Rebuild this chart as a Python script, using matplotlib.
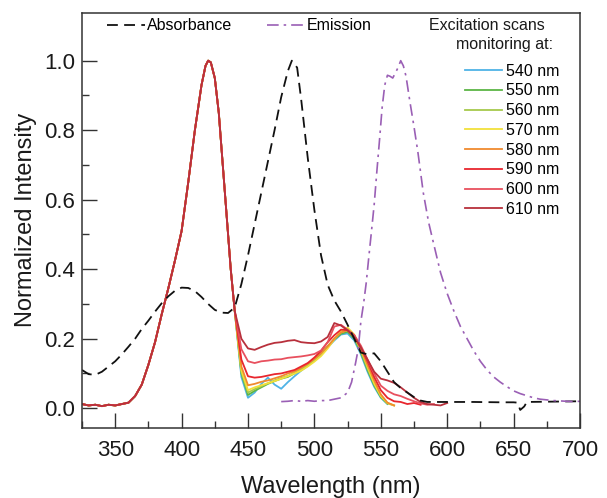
import numpy as np
import matplotlib
matplotlib.use("Agg")
import matplotlib.pyplot as plt

plt.rcParams['font.family'] = ['Liberation Sans', 'DejaVu Sans']

nan = np.nan

# excitation scans: shared rising part (all monitoring wavelengths overlap here)
exc_wl_common = [325, 330, 335, 340, 345, 350, 355, 360, 365, 370, 375, 380, 385,
                 390, 395, 400, 405, 410, 415, 418, 420, 422, 425, 428, 431, 434,
                 437, 440]
exc_common = [0.012, 0.008, 0.010, 0.006, 0.010, 0.008, 0.012, 0.016, 0.035, 0.068,
              0.125, 0.19, 0.27, 0.345, 0.425, 0.51, 0.65, 0.80, 0.93, 0.985,
              1.0, 0.995, 0.95, 0.85, 0.70, 0.55, 0.40, 0.28]

# tails after the 420 nm band, one per monitoring wavelength
exc_wl_tail = list(range(445, 605, 5))
exc_540 = [0.09, 0.03, 0.045, 0.07, 0.088, 0.068, 0.056, 0.075, 0.092, 0.108, 0.122,
           0.138, 0.155, 0.175, 0.195, 0.212, 0.215, 0.195, 0.155, 0.105, 0.062, 0.03,
           0.012, nan, nan, nan, nan, nan, nan, nan, nan, nan]
exc_550 = [0.10, 0.038, 0.05, 0.06, 0.07, 0.078, 0.085, 0.09, 0.10, 0.11, 0.124,
           0.14, 0.158, 0.178, 0.198, 0.214, 0.22, 0.2, 0.16, 0.11, 0.066, 0.032,
           0.013, nan, nan, nan, nan, nan, nan, nan, nan, nan]
exc_560 = [0.105, 0.045, 0.055, 0.063, 0.072, 0.08, 0.087, 0.093, 0.102, 0.112, 0.125,
           0.14, 0.157, 0.177, 0.2, 0.218, 0.225, 0.205, 0.165, 0.115, 0.07, 0.035,
           0.014, 0.008, nan, nan, nan, nan, nan, nan, nan, nan]
exc_570 = [0.11, 0.052, 0.06, 0.066, 0.072, 0.078, 0.085, 0.092, 0.10, 0.108, 0.12,
           0.134, 0.15, 0.172, 0.198, 0.222, 0.232, 0.212, 0.17, 0.12, 0.072, 0.036,
           0.015, 0.008, nan, nan, nan, nan, nan, nan, nan, nan]
exc_580 = [0.12, 0.066, 0.07, 0.076, 0.08, 0.086, 0.092, 0.10, 0.106, 0.116, 0.128,
           0.142, 0.158, 0.178, 0.2, 0.218, 0.224, 0.206, 0.17, 0.125, 0.08, 0.04,
           0.016, 0.008, nan, nan, nan, nan, nan, nan, nan, nan]
exc_590 = [0.14, 0.092, 0.088, 0.09, 0.094, 0.098, 0.10, 0.105, 0.11, 0.12, 0.13,
           0.146, 0.165, 0.19, 0.21, 0.226, 0.225, 0.21, 0.175, 0.135, 0.09, 0.052,
           0.03, 0.02, 0.018, 0.012, 0.015, 0.01, nan, nan, nan, nan]
exc_600 = [0.17, 0.135, 0.13, 0.135, 0.137, 0.14, 0.141, 0.145, 0.147, 0.149, 0.152,
           0.156, 0.166, 0.19, 0.235, 0.24, 0.226, 0.21, 0.18, 0.14, 0.10, 0.065,
           0.05, 0.04, 0.035, 0.027, 0.02, 0.014, 0.01, 0.012, nan, nan]
exc_610 = [0.2, 0.172, 0.168, 0.176, 0.183, 0.188, 0.19, 0.194, 0.196, 0.19, 0.188,
           0.187, 0.192, 0.205, 0.245, 0.238, 0.224, 0.205, 0.175, 0.14, 0.105, 0.085,
           0.08, 0.073, 0.06, 0.045, 0.03, 0.018, 0.012, 0.01, 0.008, 0.015]

exc_labels = ['540 nm', '550 nm', '560 nm', '570 nm', '580 nm', '590 nm', '600 nm', '610 nm']
exc_tails = [exc_540, exc_550, exc_560, exc_570, exc_580, exc_590, exc_600, exc_610]
exc_colors = ['#4fb3e6', '#5cb545', '#a6c94c', '#f2e03a', '#f08a2e', '#e8262e', '#e8505e', '#b8303c']

# absorbance
abs_wl = [325, 330, 335, 340, 345, 350, 355, 360, 365, 370, 375, 380, 385, 390, 395,
          400, 405, 410, 415, 420, 425, 430, 435, 440, 445, 450, 455, 460, 465, 470,
          475, 480, 483, 487, 490, 495, 500, 505, 510, 515, 520, 525, 530, 535, 540,
          545, 550, 555, 560, 565, 570, 575, 580, 585, 600, 620, 640, 650, 653, 655,
          658, 660, 680, 700]
absorbance = [0.11, 0.098, 0.096, 0.105, 0.12, 0.135, 0.155, 0.177, 0.2, 0.228, 0.252,
              0.278, 0.302, 0.322, 0.338, 0.347, 0.346, 0.337, 0.32, 0.30, 0.283, 0.275,
              0.274, 0.29, 0.357, 0.44, 0.53, 0.62, 0.71, 0.80, 0.895, 0.97, 1.0, 0.98,
              0.89, 0.72, 0.57, 0.44, 0.355, 0.31, 0.278, 0.24, 0.2, 0.16, 0.155, 0.158,
              0.135, 0.105, 0.075, 0.058, 0.045, 0.032, 0.022, 0.018, 0.018, 0.018,
              0.017, 0.017, 0.016, -0.005, 0.005, 0.018, 0.019, 0.02]

# emission
emi_wl = [475, 480, 485, 490, 495, 500, 505, 510, 515, 520, 525, 528, 531, 533, 535,
          537, 539, 541, 543, 545, 547, 549, 551, 553, 555, 557, 559, 561, 563, 565,
          567, 569, 572, 575, 578, 582, 586, 590, 595, 600, 605, 610, 615, 620, 625,
          630, 635, 640, 645, 650, 655, 660, 665, 670, 675, 680, 685, 690, 695, 700]
emission = [0.019, 0.02, 0.022, 0.02, 0.022, 0.02, 0.022, 0.022, 0.026, 0.03, 0.045,
            0.075, 0.13, 0.17, 0.25, 0.30, 0.36, 0.436, 0.51, 0.585, 0.68, 0.77, 0.865,
            0.93, 0.958, 0.955, 0.95, 0.965, 0.98, 1.0, 0.985, 0.955, 0.88, 0.81, 0.735,
            0.62, 0.535, 0.47, 0.39, 0.33, 0.28, 0.235, 0.2, 0.165, 0.135, 0.11, 0.09,
            0.075, 0.062, 0.05, 0.042, 0.036, 0.03, 0.026, 0.024, 0.022, 0.021, 0.02,
            0.019, 0.02]

fig = plt.figure(figsize=(6.07, 4.98), dpi=100)
ax = fig.add_axes([0.1351, 0.1412, 0.8204, 0.8333])

exc_lines = []
for lab, tail, col in zip(exc_labels, exc_tails, exc_colors):
    x = np.concatenate([exc_wl_common, exc_wl_tail])
    y = np.concatenate([exc_common, tail])
    ln, = ax.plot(x, y, color=col, lw=1.3, label=lab)
    exc_lines.append(ln)

abs_line, = ax.plot(abs_wl, absorbance, color='#111111', lw=1.3,
                    ls=(0, (6, 3.5)), label='Absorbance')
emi_line, = ax.plot(emi_wl, emission, color='#9a5fb5', lw=1.2,
                    ls=(0, (7, 3, 1.5, 3)), label='Emission')

ax.set_xlim(325, 700)
ax.set_ylim(-0.056, 1.138)
ax.set_xticks(np.arange(350, 701, 50))
ax.set_xticks(np.arange(325, 701, 25), minor=True)
ax.set_yticks(np.arange(0, 1.01, 0.2))
ax.set_yticks(np.arange(0, 1.01, 0.1), minor=True)
ax.set_yticklabels(['0.0', '0.2', '0.4', '0.6', '0.8', '1.0'])

ax.tick_params(which='major', direction='in', length=10.8, width=1.0,
               labelsize=16, colors='#333333', labelcolor='#1a1a1a')
ax.tick_params(axis='x', which='major', pad=9)
ax.tick_params(axis='y', which='major', pad=5)
ax.tick_params(which='minor', direction='in', length=5, width=1.0, colors='#333333')
for sp in ax.spines.values():
    sp.set_linewidth(1.1)
    sp.set_color('#333333')

ax.set_xlabel('Wavelength (nm)', fontsize=17, labelpad=11, color='#1a1a1a')
ax.set_ylabel('Normalized Intensity', fontsize=17, labelpad=5, color='#1a1a1a')

leg1 = ax.legend(handles=[abs_line, emi_line], loc='center left',
                 bbox_to_anchor=(0.0496, 0.968), ncol=2, frameon=False,
                 fontsize=11.5, handlelength=2.38, handletextpad=0.12,
                 columnspacing=2.2, borderpad=0, borderaxespad=0)
ax.add_artist(leg1)

ax.text(0.6968, 0.968, 'Excitation scans', transform=ax.transAxes,
        fontsize=11.5, ha='left', va='center', color='#1a1a1a')
ax.text(0.9458, 0.9234, 'monitoring at:', transform=ax.transAxes,
        fontsize=11.5, ha='right', va='center', color='#1a1a1a')

ax.legend(handles=exc_lines, loc='upper left', bbox_to_anchor=(0.769, 0.8775),
          frameon=False, fontsize=11.5, handlelength=2.3, handletextpad=0.27,
          labelspacing=0.30, borderpad=0, borderaxespad=0)

fig.savefig('out.png', dpi=100)
